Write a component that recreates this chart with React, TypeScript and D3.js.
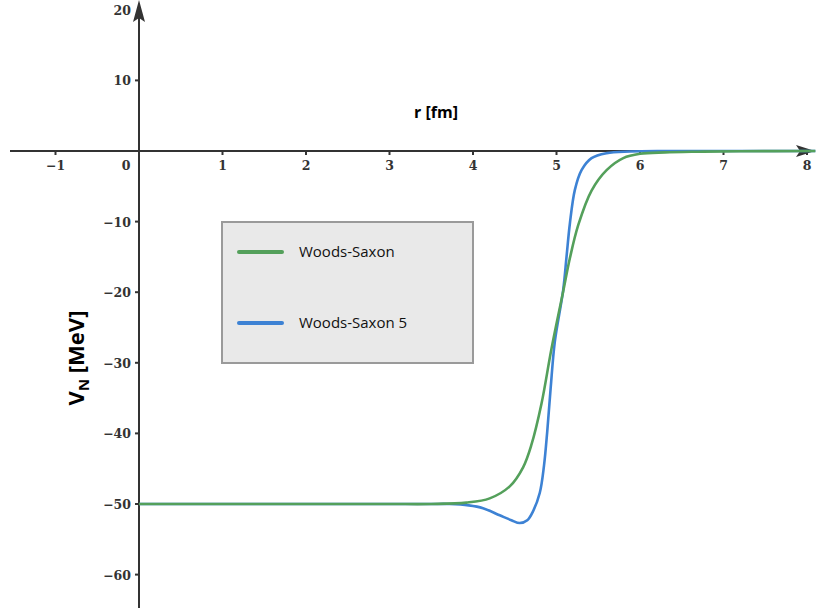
import React from "react";
import * as d3 from "d3";

const xTicks = [-1, 0, 1, 2, 3, 4, 5, 6, 7, 8];
const yTicks = [20, 10, -10, -20, -30, -40, -50, -60];

// Woods-Saxon
const wsR = [0, 1, 2, 3, 3.5, 3.92, 4.2, 4.44, 4.6, 4.7, 4.82, 4.94, 5.08, 5.16, 5.26, 5.42, 5.6, 5.8, 6.0, 6.3, 6.7, 7.2, 8.1];
const wsV = [-50, -50, -50, -50, -50, -49.8, -49.2, -47.5, -44.8, -41.6, -35.8, -28.0, -19.9, -15.2, -10.5, -5.6, -2.7, -1.0, -0.4, -0.2, -0.1, -0.03, 0];

// Woods-Saxon 5
const ws5R = [0, 1, 2, 3, 3.5, 3.72, 3.95, 4.12, 4.32, 4.46, 4.56, 4.65, 4.72, 4.8, 4.85, 4.89, 4.93, 4.98, 5.08, 5.12, 5.16, 5.22, 5.3, 5.42, 5.6, 5.88, 6.3, 7, 8.1];
const ws5V = [-50, -50, -50, -50, -50, -50, -50.2, -50.6, -51.6, -52.3, -52.7, -52.3, -51.0, -48.4, -44.6, -39.6, -33.6, -27.0, -19.7, -15.0, -10.3, -5.5, -2.7, -1.0, -0.3, -0.07, 0, 0, 0];

const GREEN = "#54a05b";
const BLUE = "#3d82d4";
const AXIS = "#333333";

export default function App() {
  const x = d3.scaleLinear().domain([0, 8]).range([139, 807]);
  const y = d3.scaleLinear().domain([0, -50]).range([151, 504]);

  const line = d3
    .line<[number, number]>()
    .x((d) => x(d[0]))
    .y((d) => y(d[1]))
    .curve(d3.curveCatmullRom.alpha(0.5));

  const ws = wsR.map((r, i) => [r, wsV[i]] as [number, number]);
  const ws5 = ws5R.map((r, i) => [r, ws5V[i]] as [number, number]);

  const x0 = x(0);
  const y0 = y(0);
  const tickFont = { fontFamily: "'DejaVu Serif', serif", fontWeight: 700, fontSize: 12.5, fill: "#333" };

  return (
    <svg width={816} height={608} style={{ position: "absolute", left: 0, top: 0, background: "#fff" }}>
      {/* x axis */}
      <line x1={10} x2={800} y1={y0} y2={y0} stroke={AXIS} strokeWidth={2} />
      <path d={`M${815},${y0} L${796},${y0 - 6} L${800},${y0} L${796},${y0 + 6} Z`} fill={AXIS} />
      {/* y axis */}
      <line x1={x0} x2={x0} y1={18} y2={608} stroke={AXIS} strokeWidth={2} />
      <path d={`M${x0},${0} L${x0 - 6},${22} L${x0},${18} L${x0 + 6},${22} Z`} fill={AXIS} />

      {xTicks.map((t) => (
        <g key={"x" + t}>
          {t !== 0 && <line x1={x(t)} x2={x(t)} y1={y0} y2={y0 + 4} stroke={AXIS} strokeWidth={2} />}
          <text
            x={t === 0 ? x0 - 13 : x(t)}
            y={y0 + 19}
            textAnchor="middle"
            style={tickFont}
          >
            {t < 0 ? "\u2212" + Math.abs(t) : String(t)}
          </text>
        </g>
      ))}
      {yTicks.map((t) => (
        <g key={"y" + t}>
          {t !== 20 && <line x1={x0 - 4} x2={x0} y1={y(t)} y2={y(t)} stroke={AXIS} strokeWidth={2} />}
          <text x={x0 - 8} y={y(t) + 5} textAnchor="end" style={tickFont}>
            {t < 0 ? "\u2212" + Math.abs(t) : String(t)}
          </text>
        </g>
      ))}

      <path d={line(ws5) || ""} fill="none" stroke={BLUE} strokeWidth={2.6} />
      <path d={line(ws) || ""} fill="none" stroke={GREEN} strokeWidth={2.6} />

      <text x={436} y={118} textAnchor="middle" style={{ fontFamily: "'Open Sans', sans-serif", fontWeight: 700, fontSize: 16, fill: "#000" }}>
        r [fm]
      </text>
      <text
        transform="translate(84,358) rotate(-90)"
        textAnchor="middle"
        style={{ fontFamily: "'Open Sans', sans-serif", fontWeight: 700, fontSize: 22, fill: "#000" }}
      >
        V<tspan fontSize={15} dy={5}>N</tspan>
        <tspan dy={-5}> [MeV]</tspan>
      </text>

      {/* legend */}
      <rect x={222} y={222} width={251} height={141} fill="#e9e9e9" stroke="#9a9a9a" strokeWidth={2} />
      <line x1={239} x2={282} y1={252} y2={252} stroke={GREEN} strokeWidth={4} strokeLinecap="round" />
      <line x1={239} x2={282} y1={323} y2={323} stroke={BLUE} strokeWidth={4} strokeLinecap="round" />
      <text x={299} y={257} style={{ fontFamily: "'Open Sans', sans-serif", fontSize: 15, fill: "#111" }}>
        Woods-Saxon
      </text>
      <text x={299} y={328} style={{ fontFamily: "'Open Sans', sans-serif", fontSize: 15, fill: "#111" }}>
        Woods-Saxon 5
      </text>
    </svg>
  );
}
